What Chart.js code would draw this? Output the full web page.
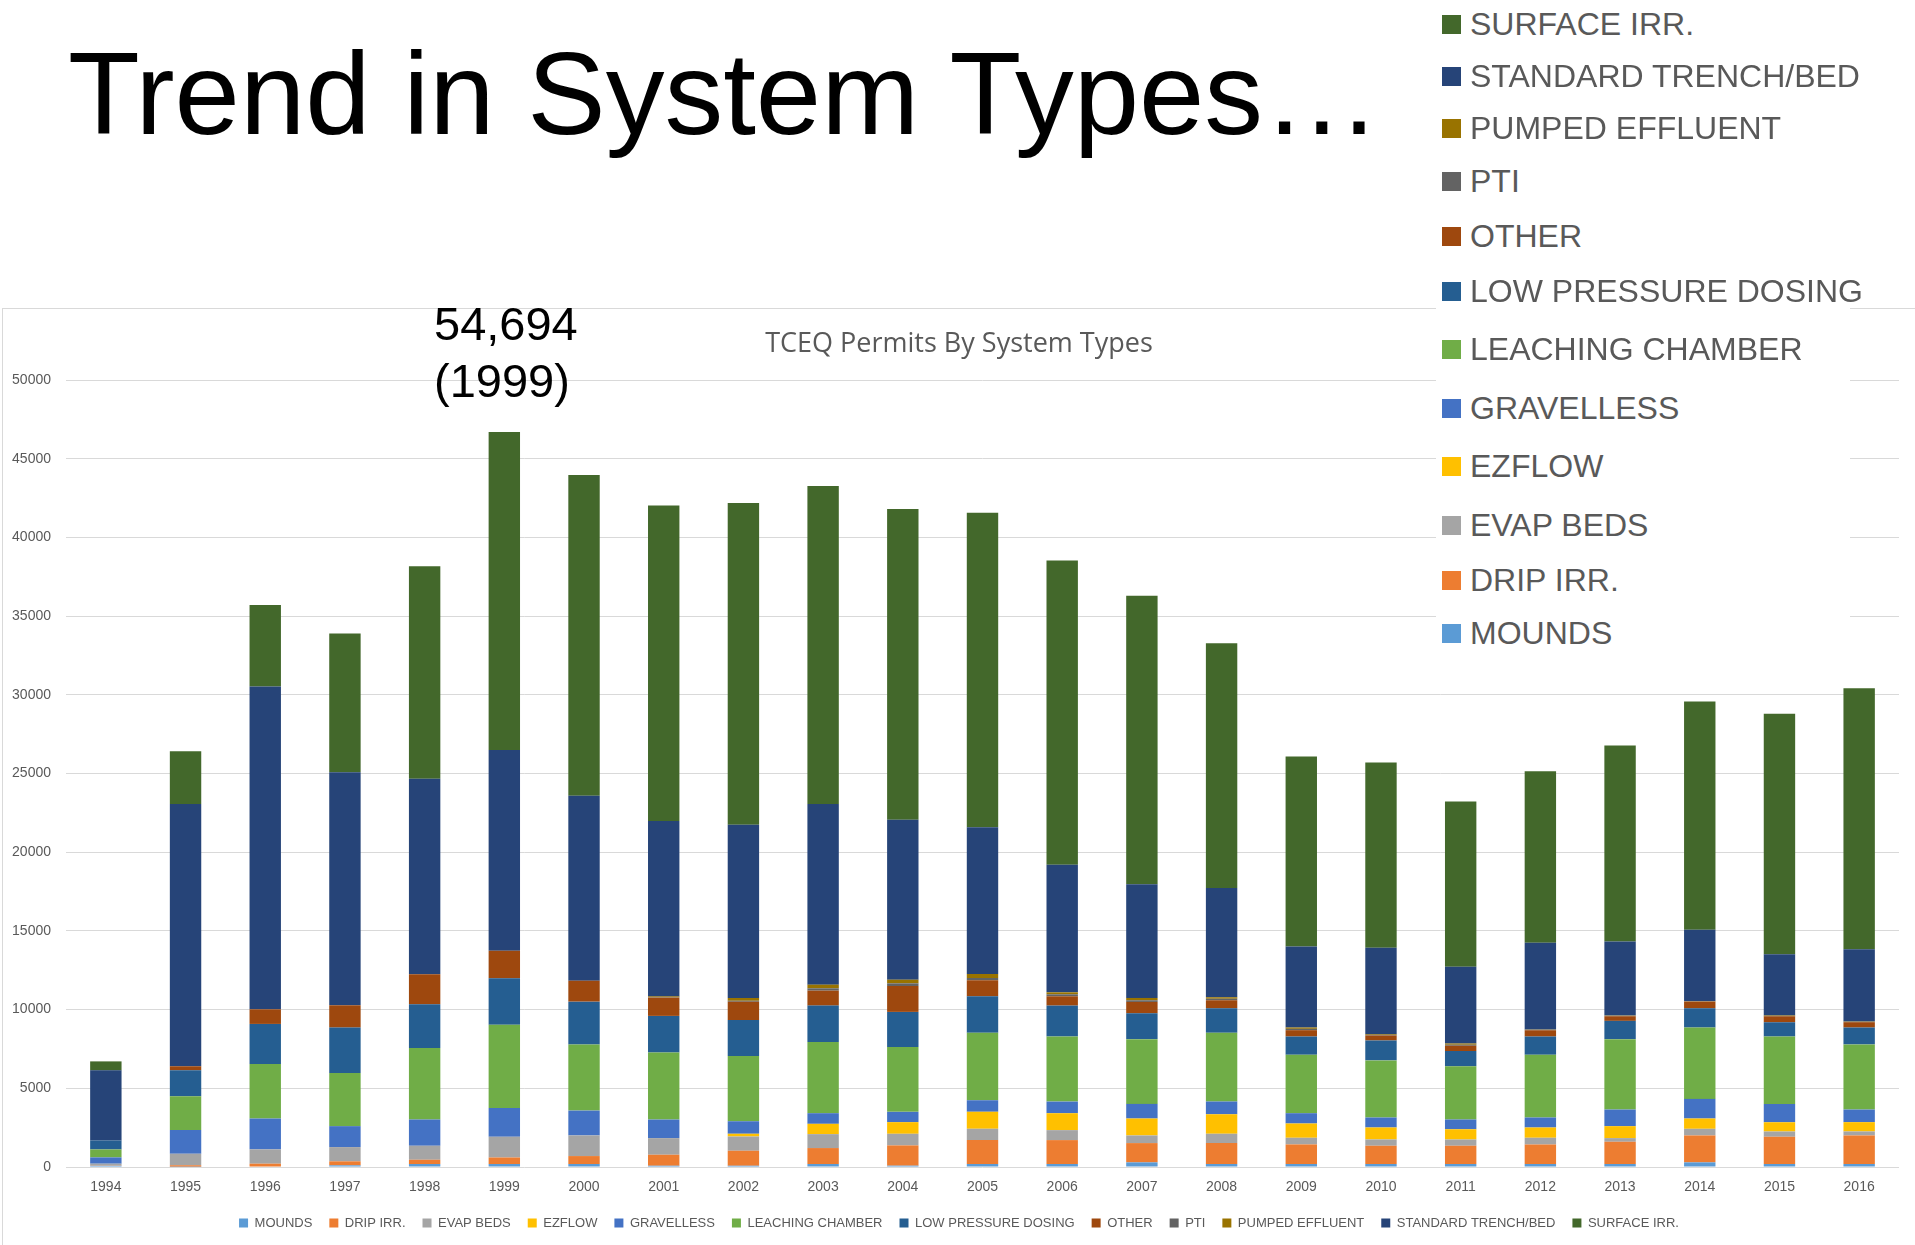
<!DOCTYPE html>
<html><head><meta charset="utf-8">
<script src="https://cdn.jsdelivr.net/npm/chart.js@4.4.1/dist/chart.umd.min.js"></script>
<style>
html,body{margin:0;padding:0;background:#fff;}
body{width:1915px;height:1245px;position:relative;overflow:hidden;font-family:"Liberation Sans",Arial,sans-serif;}
#frame{position:absolute;left:2px;top:308px;width:1913px;height:937px;border-top:1px solid #d9d9d9;border-left:1px solid #d9d9d9;box-sizing:border-box;}
#c{position:absolute;left:0;top:0;}
#title{position:absolute;left:68px;top:35px;font-size:117.5px;line-height:117.5px;color:#000;white-space:nowrap;}
#note{position:absolute;left:434px;top:295px;font-size:47px;line-height:57px;color:#000;white-space:nowrap;}
#side{position:absolute;left:1436px;top:0;width:414px;height:655px;background:#fff;}
.row{position:absolute;left:6px;height:40px;display:flex;align-items:center;font-size:32px;color:#595959;white-space:nowrap;}
.sw{width:19px;height:19px;margin-right:9px;flex:none;}
</style></head>
<body>
<div id="frame"><canvas id="c" width="1912" height="936"></canvas></div>
<div id="title">Trend in System Types…</div>
<div id="note">54,694<br>(1999)</div>
<div id="side"></div>
<script>
const years = ['1994','1995','1996','1997','1998','1999','2000','2001','2002','2003','2004','2005','2006','2007','2008','2009','2010','2011','2012','2013','2014','2015','2016'];
const yTicks = [0,5000,10000,15000,20000,25000,30000,35000,40000,45000,50000];

const seriesNames = ['MOUNDS','DRIP IRR.','EVAP BEDS','EZFLOW','GRAVELLESS','LEACHING CHAMBER','LOW PRESSURE DOSING','OTHER','PTI','PUMPED EFFLUENT','STANDARD TRENCH/BED','SURFACE IRR.'];

const mounds     = [80,20,30,105,190,190,190,80,84,190,84,190,190,295,190,190,190,190,190,190,295,190,190];
const dripIrr    = [20,85,180,255,275,420,505,700,950,1013,1288,1519,1519,1224,1329,1245,1160,1160,1245,1414,1710,1730,1815];
const evapBeds   = [110,740,910,905,885,1310,1310,1055,907,886,738,718,633,486,591,422,401,401,422,232,422,338,253];
const ezflow     = [0,0,0,0,0,0,0,0,170,654,739,1076,1076,1076,1245,907,760,654,654,759,654,591,591];
const gravelless = [400,1500,1960,1330,1670,1835,1580,1180,800,675,654,738,739,928,802,654,633,612,633,1055,1245,1160,801];
const leaching   = [506,2150,3460,3375,4535,5275,4200,4265,4135,4516,4114,4283,4135,4115,4367,3714,3629,3376,3988,4474,4536,4283,4136];
const lowPressure= [570,1650,2550,2890,2785,2955,2720,2320,2300,2321,2237,2321,1963,1645,1562,1160,1266,971,1160,1160,1224,908,1076];
const other      = [0,250,930,1415,1900,1750,1330,1160,1160,949,1646,1013,590,718,506,401,317,338,401,295,422,379,338];
const pti        = [0,0,0,0,0,0,0,20,60,148,168,148,127,105,95,85,40,70,20,20,20,20,20];
const pumped     = [0,0,0,0,0,0,0,60,170,232,232,253,127,148,100,85,45,77,20,20,20,20,22];
const standard   = [4454,16670,20510,14800,12430,12755,11755,11140,11014,11481,10160,9331,8096,7220,6933,5147,5489,4881,5507,4701,4532,3901,4598];
const surfaceIrr = [570,3350,5170,8820,13490,20210,20370,20050,20430,20205,19740,19970,19345,18340,15560,12070,11770,10490,10910,12460,14490,15270,16580];

const seriesValues = [mounds,dripIrr,evapBeds,ezflow,gravelless,leaching,lowPressure,other,pti,pumped,standard,surfaceIrr];
const seriesColors = ['#5B9BD5','#ED7D31','#A5A5A5','#FFC000','#4472C4','#70AD47','#255E91','#9E480E','#636363','#997300','#264478','#43682B'];

// layout of the large side legend (row centres, px)
const sideRowCentres = [24,76,128,181,236,291,349,408,466,525,580,633];

Chart.defaults.font.family = '"Liberation Sans", Arial, sans-serif';

new Chart(document.getElementById('c'), {
  type: 'bar',
  data: {
    labels: years,
    datasets: seriesNames.map((n,i)=>({label:n, data:seriesValues[i], backgroundColor:seriesColors[i], borderWidth:0}))
  },
  options: {
    responsive:false, animation:false,
    layout:{padding:{left:0,right:0,top:0,bottom:5.5}},
    datasets:{bar:{barPercentage:0.394, categoryPercentage:1}},
    plugins:{
      title:{display:true, text:'TCEQ Permits By System Types', color:'#595959',
             font:{family:'"Open Sans"', size:27, weight:'normal'}, padding:{top:19,bottom:19.6}},
      legend:{position:'bottom', labels:{boxWidth:9, boxHeight:9, padding:17, color:'#595959', font:{size:13}}},
      tooltip:{enabled:false}
    },
    scales:{
      x:{stacked:true, grid:{display:false}, border:{display:false},
         ticks:{color:'#595959', font:{size:14}, padding:3.5, maxRotation:0, autoSkip:false},
         afterFit(s){ s.height = 32.5; }},
      y:{stacked:true, min:0, max:50000,
         afterBuildTicks(s){ s.ticks = yTicks.map(v=>({value:v})); },
         ticks:{color:'#595959', font:{size:14}, padding:15, callback:(v)=>String(v)},
         grid:{color:'#d9d9d9', drawTicks:false}, border:{display:false},
         afterFit(s){ s.width = 63; }},
      yRight:{position:'right', display:true, min:0, max:50000,
         ticks:{display:false}, grid:{display:false, drawTicks:false}, border:{display:false},
         afterFit(s){ s.width = 16; }}
    }
  }
});

const side = document.getElementById('side');
for (let k=0;k<seriesNames.length;k++){
  const i = seriesNames.length-1-k;
  const row = document.createElement('div');
  row.className='row';
  row.style.top = (sideRowCentres[k]-20)+'px';
  const sw = document.createElement('div'); sw.className='sw'; sw.style.background=seriesColors[i];
  const tx = document.createElement('span'); tx.textContent = seriesNames[i];
  row.appendChild(sw); row.appendChild(tx);
  side.appendChild(row);
}
</script>
</body></html>
